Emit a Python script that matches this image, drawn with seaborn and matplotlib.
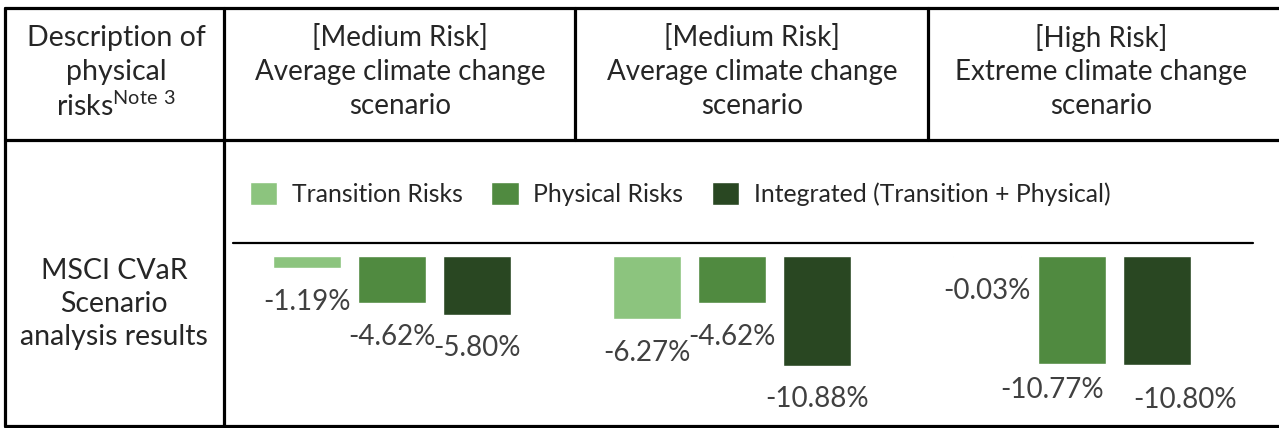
import numpy as np
import pandas as pd
import seaborn as sns
import matplotlib.pyplot as plt
from matplotlib.lines import Line2D

sns.set_style("white")
plt.rcParams['font.family'] = ['Lato', 'DejaVu Sans']
plt.rcParams['mathtext.fontset'] = 'custom'
plt.rcParams['mathtext.rm'] = 'Lato'

# data
scenarios = ['Medium risk A', 'Medium risk B', 'High risk']
headers = [
    '[Medium Risk]\nAverage climate change\nscenario',
    '[Medium Risk]\nAverage climate change\nscenario',
    '[High Risk]\nExtreme climate change\nscenario',
]
first_header = ['Description of', 'physical', r'risks$^{\mathrm{Note\ 3}}$']
row_label = 'MSCI CVaR\nScenario\nanalysis results'
risk_types = ['Transition Risks', 'Physical Risks', 'Integrated (Transition + Physical)']
transition = [-1.19, -6.27, -0.03]
physical = [-4.62, -4.62, -10.77]
integrated = [-5.80, -10.88, -10.80]
colours = ['#8CC47E', '#508A40', '#294722']

df = pd.DataFrame({
    'scenario': scenarios * 3,
    'risk': np.repeat(risk_types, len(scenarios)),
    'value': transition + physical + integrated,
})

W, H = 1279, 428
fig = plt.figure(figsize=(W / 100, H / 100), dpi=100)


def fx(x):
    return x / W


def fy(y):
    return 1 - y / H


# chart area (merged cells of the body row)
ax = fig.add_axes([fx(224), fy(426), fx(1279) - fx(224), fy(150) - fy(426)])
sns.barplot(data=df, x='scenario', y='value', hue='risk', palette=colours,
            saturation=1, width=0.75, gap=0.2, ax=ax)
ax.set_xlim(-0.494, 2.609)
ax.set_ylim(-16.9, 10.6)
ax.axis('off')

pad = 15
labels = []
for c in ax.containers:
    labels.append(ax.bar_label(c, fmt='{:.2f}%', padding=pad, fontsize=20, color='#404040'))

# the two crowded labels in the last group are pushed apart, like in the original
labels[1][2].xyann = (-14, -pad + 6)
labels[2][2].xyann = (20, -pad - 1)

# separator line above the bars
ax.axhline(1.3, xmin=9 / 1055, xmax=1029 / 1055, color='black', lw=1.6)

sns.move_legend(ax, loc='center left', bbox_to_anchor=(fx(250), fy(194)),
                bbox_transform=fig.transFigure, ncol=3, title=None, frameon=False,
                fontsize=17.8, labelcolor='#262626', handlelength=1.1, handleheight=1.05,
                handletextpad=0.6, columnspacing=1.15, borderpad=0, borderaxespad=0)

# table grid
lw = 2.3
segments = [
    ((5, 8), (1279, 8)),
    ((5, 140), (1279, 140)),
    ((5, 426), (1279, 426)),
    ((5, 8), (5, 426)),
    ((224, 8), (224, 426)),
    ((575, 8), (575, 140)),
    ((928, 8), (928, 140)),
]
for (x0, y0), (x1, y1) in segments:
    fig.add_artist(Line2D([fx(x0), fx(x1)], [fy(y0), fy(y1)],
                          transform=fig.transFigure, color='black', lw=lw))

# header texts
line_y = [38, 72, 106]
for line, y in zip(first_header, line_y):
    fig.text(fx(116), fy(y), line, ha='center', va='center', fontsize=20.5)
for cx, head in zip([400, 752, 1101], headers):
    for line, y in zip(head.split('\n'), line_y):
        fig.text(fx(cx), fy(y), line, ha='center', va='center', fontsize=20)

for line, y in zip(row_label.split('\n'), [271, 304, 337]):
    fig.text(fx(114), fy(y), line, ha='center', va='center', fontsize=20.5)

fig.savefig('out.png', dpi=100)
